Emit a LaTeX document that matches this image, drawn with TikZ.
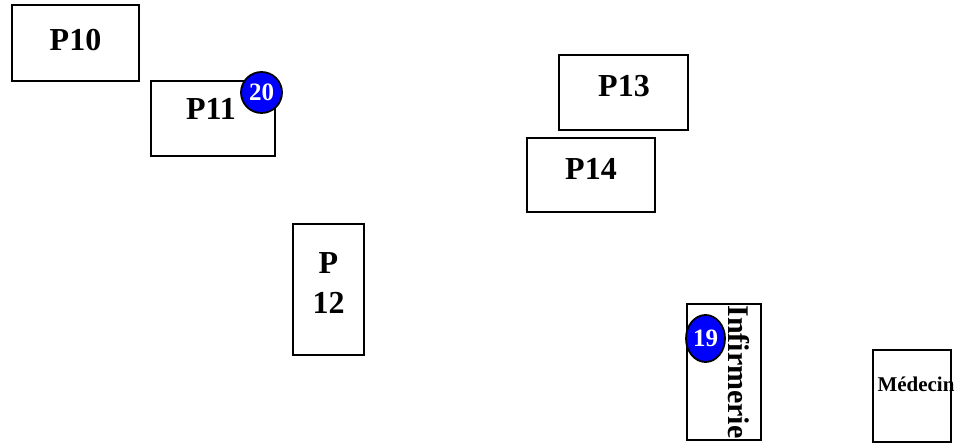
\documentclass[tikz,border=0pt]{standalone}
\usepackage{fontspec}
\setmainfont{Liberation Serif}
\usetikzlibrary{shapes.geometric}
\begin{document}
\begin{tikzpicture}[x=1pt,y=-1pt,
  room/.style={draw=black,line width=1.3pt,fill=white,minimum width=#1,inner sep=0pt,outer sep=0pt},
  lbl/.style={font=\bfseries\fontsize{32}{34}\selectfont,inner sep=0pt},
  badge/.style={ellipse,draw=black,line width=1.8pt,fill=blue,text=white,inner sep=0pt,font=\bfseries\fontsize{25}{27}\selectfont}]
\useasboundingbox (0,0) rectangle (967,443);
\node[room=127pt,minimum height=76pt] (p10) at (75.5,43) {};
\node[lbl] (t10) at (75.5,40) {P10};
\node[room=124pt,minimum height=75pt] (p11) at (213,118.5) {};
\node[lbl] (t11) at (211,109) {P11};
\node[badge,minimum width=41pt,minimum height=41pt] (b20) at (261.5,92.5) {20};
\node[room=129pt,minimum height=75pt] (p13) at (623.5,92.5) {};
\node[lbl] (t13) at (624,86) {P13};
\node[room=128pt,minimum height=74pt] (p14) at (591,175) {};
\node[lbl] (t14) at (591,169) {P14};
\node[room=71pt,minimum height=131pt] (p12) at (328.5,289.5) {};
\node[lbl,align=center] (t12) at (328.5,283) {P\\[6pt]12};
\node[room=74pt,minimum height=136pt] (inf) at (724,372) {};
\node[lbl,rotate=-90,font=\bfseries\fontsize{30}{32}\selectfont] (tinf) at (739,372) {Infirmerie};
\node[badge,minimum width=39pt,minimum height=47pt] (b19) at (705.5,338.5) {19};
\node[room=78pt,minimum height=92pt] (med) at (912,396) {};
\node[lbl,font=\bfseries\fontsize{21}{23}\selectfont] (tmed) at (916,384) {Médecin};
\end{tikzpicture}
\end{document}
